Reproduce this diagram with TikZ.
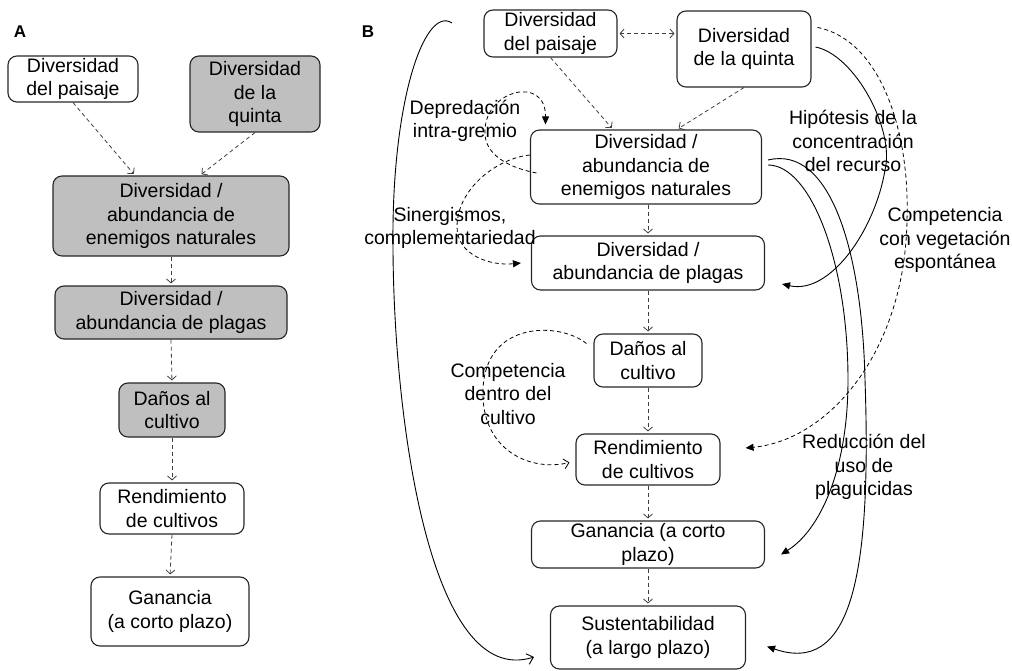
\documentclass[tikz,border=0pt]{standalone}
\usepackage{fontspec}
\setmainfont{Liberation Sans}
\usetikzlibrary{
    arrows.meta % For arrow tips
}

\begin{document}
\begin{tikzpicture}[
    x=1pt, y=-1pt, % pixel-like coordinates, y downwards
    texto/.style={font=\fontsize{19.5}{23.5}\selectfont},
    caja/.style={texto, draw=black!85, line width=1.1pt, rounded corners=9pt,
        align=center, inner sep=2pt}, % Style for boxes
    gris/.style={caja, fill=gray!50}, % Shaded boxes of panel A
    flecha/.style={draw=black!75, line width=0.8pt, dash pattern=on 4pt off 3pt,
        shorten >=2pt, -{Straight Barb[length=4pt,width=9pt]}}, % Dashed links
    flechas/.style={flecha, shorten <=2pt,
        {Straight Barb[length=4pt,width=9pt]}-{Straight Barb[length=4pt,width=9pt]}},
    lazo/.style={line width=0.8pt, dash pattern=on 4pt off 3pt,
        -{Triangle[length=8pt,width=7pt]}}, % Dashed curves
    lazoabierto/.style={lazo, -{Straight Barb[length=5pt,width=10pt]}},
    curva/.style={line width=0.9pt, -{Triangle[length=8pt,width=7pt]}}, % Solid curves
    rotulo/.style={texto, align=center, inner sep=0pt} % Curve labels
]

    \useasboundingbox (0,0) rectangle (1012,671);

    % Panel A
    \node[font=\fontsize{17}{20}\selectfont\bfseries] (letraA) at (20,32) {A};

    \node[caja, minimum width=130pt, minimum height=46pt] (paisA) at (73,79) {Diversidad\\del paisaje};
    \node[gris, minimum width=130pt, minimum height=76pt] (quinA) at (255,94) {Diversidad\\de la\\quinta};
    \node[gris, minimum width=236pt, minimum height=80pt] (enemA) at (171,216) {Diversidad /\\abundancia de\\enemigos naturales};
    \node[gris, minimum width=232pt, minimum height=53pt] (plagA) at (171,312.5) {Diversidad /\\abundancia de plagas};
    \node[gris, minimum width=106pt, minimum height=54pt] (danA) at (172,410) {Daños al\\cultivo};
    \node[caja, minimum width=144pt, minimum height=51pt] (rendA) at (172,508.5) {Rendimiento\\de cultivos};
    \node[caja, minimum width=158pt, minimum height=69pt] (ganA) at (170,611.5) {Ganancia\\(a corto plazo)};

    \draw[flecha] (paisA.south) -- ([xshift=-36pt]enemA.north);
    \draw[flecha] (quinA.south) -- ([xshift=29pt]enemA.north);
    \draw[flecha] (enemA.south) -- (plagA.north);
    \draw[flecha] (plagA.south) -- (danA.north);
    \draw[flecha] (danA.south) -- (rendA.north);
    \draw[flecha] (rendA.south) -- (ganA.north);

    % Panel B
    \node[font=\fontsize{17}{20}\selectfont\bfseries] (letraB) at (368,32) {B};

    \node[caja, minimum width=133pt, minimum height=47pt] (paisB) at (550.5,33.5) {Diversidad\\del paisaje};
    \node[caja, minimum width=134pt, minimum height=76pt] (quinB) at (744,49) {Diversidad\\de la quinta};
    \node[caja, minimum width=231pt, minimum height=74pt] (enemB) at (646,167) {Diversidad /\\abundancia de\\enemigos naturales};
    \node[caja, minimum width=233pt, minimum height=54pt] (plagB) at (648,263) {Diversidad /\\abundancia de plagas};
    \node[caja, minimum width=108pt, minimum height=53pt] (danB) at (648,360.5) {Daños al\\cultivo};
    \node[caja, minimum width=144pt, minimum height=51pt] (rendB) at (648,459.5) {Rendimiento\\de cultivos};
    \node[caja, minimum width=233pt, minimum height=47pt] (ganB) at (648,544.5) {Ganancia (a corto\\plazo)};
    \node[caja, minimum width=195pt, minimum height=63pt] (susB) at (648,637.5) {Sustentabilidad\\(a largo plazo)};

    % Straight links
    \draw[flechas] (paisB.east) -- (paisB.east -| quinB.west);
    \draw[flecha] (paisB.south) -- ([xshift=-33pt]enemB.north);
    \draw[flecha] (quinB.south) -- ([xshift=31pt]enemB.north);
    \draw[flecha] (enemB.south -| plagB.north) -- (plagB.north);
    \draw[flecha] (plagB.south) -- (danB.north);
    \draw[flecha] (danB.south) -- (rendB.north);
    \draw[flecha] (rendB.south) -- (ganB.north);
    \draw[flecha] (ganB.south) -- (susB.north);

    % Loops on the left
    \draw[lazo] ([xshift=6.5pt,yshift=-6pt]enemB.west) .. controls (510,168) and (483,155) .. (485,130)
        .. controls (486,90) and (546,75) .. ([xshift=15.5pt,yshift=5pt]enemB.north west);
    \draw[lazo] ([yshift=12pt]enemB.west) .. controls (498,158) and (457,188) .. (457,227)
        .. controls (457,255) and (490,266) .. ([xshift=-10pt]plagB.west);
    \draw[lazoabierto] ([xshift=-7pt,yshift=17pt]danB.west) .. controls (560,322) and (485,320) .. (483,390)
        .. controls (481,450) and (530,472) .. ([xshift=-6pt,yshift=-3pt]rendB.west);

    % Long curve from the top left
    \coordinate (inicio) at (452,23);
    \draw[line width=0.9pt, -{Straight Barb[length=6pt,width=11pt]}] (inicio)
        .. controls (425,5) and (391,100) .. (393,250)
        .. controls (394,420) and (430,690) .. ([xshift=-16pt,yshift=-19.5pt]susB.west);

    % Curves on the right
    \draw[curva] ([xshift=4pt,yshift=2pt]quinB.east) .. controls (855,55) and (895,130) .. (885,170)
        .. controls (875,230) and (830,295) .. ([xshift=17pt,yshift=-21pt]plagB.east);
    \draw[lazo] ([xshift=6pt,yshift=-17pt]quinB.north east) .. controls (880,40) and (910,130) .. (907,220)
        .. controls (905,350) and (830,440) .. ([xshift=25pt,yshift=11.5pt]rendB.east);
    \draw[curva] ([xshift=6pt,yshift=2pt]enemB.east) .. controls (810,165) and (848,260) .. (848,380)
        .. controls (848,470) and (820,530) .. ([xshift=16pt,yshift=-10pt]ganB.east);
    \draw[curva] ([xshift=6pt,yshift=7pt]enemB.east) .. controls (830,145) and (862,250) .. (865,380)
        .. controls (872,580) and (850,675) .. ([xshift=21pt,yshift=-9pt]susB.east);

    % Labels
    \node[rotulo] (depre) at (465,121) {Depredación\\intra-gremio};
    \node[rotulo] (siner) at (450,228) {Sinergismos,\\complementariedad};
    \node[rotulo] (compd) at (508,394) {Competencia\\dentro del\\cultivo};
    \node[rotulo] (hipot) at (853,141) {Hipótesis de la\\concentración\\del recurso};
    \node[rotulo] (compv) at (945,240) {Competencia\\con vegetación\\espontánea};
    \node[rotulo] (reduc) at (864,467) {Reducción del\\uso de\\plaguicidas};

\end{tikzpicture}
\end{document}
